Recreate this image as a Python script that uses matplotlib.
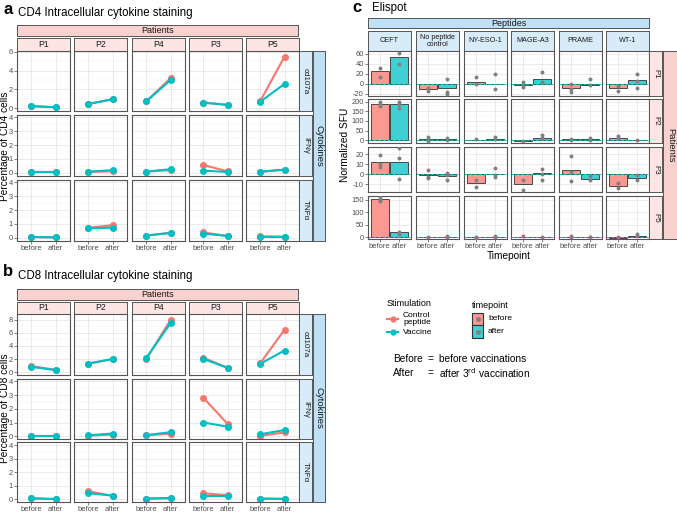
import matplotlib
import matplotlib.pyplot as plt
from matplotlib.patches import Rectangle
from matplotlib.lines import Line2D

matplotlib.use('agg')
plt.rcParams['font.family'] = ['Liberation Sans', 'DejaVu Sans']

# --- data -------------------------------------------------------------
timepoints = ['before', 'after']
ics_patients = ['P1', 'P2', 'P4', 'P3', 'P5']
cytokines = ['cd107a', 'IFNγ', 'TNFα']

# CD4, one [before, after] pair per patient
cd4_cd107a_ctrl = [[0.25, 0.10], [0.45, 0.95], [0.75, 3.20], [0.60, 0.35], [0.80, 5.50]]
cd4_cd107a_vacc = [[0.20, 0.10], [0.45, 0.95], [0.75, 3.00], [0.60, 0.35], [0.70, 2.60]]
cd4_ifng_ctrl = [[0.02, 0.02], [0.05, 0.10], [0.08, 0.18], [0.55, 0.10], [0.05, 0.22]]
cd4_ifng_vacc = [[0.02, 0.02], [0.08, 0.18], [0.08, 0.25], [0.15, 0.05], [0.08, 0.22]]
cd4_tnfa_ctrl = [[0.05, 0.02], [0.72, 0.90], [0.15, 0.35], [0.38, 0.12], [0.10, 0.08]]
cd4_tnfa_vacc = [[0.05, 0.02], [0.68, 0.72], [0.15, 0.35], [0.30, 0.12], [0.08, 0.08]]

# CD8
cd8_cd107a_ctrl = [[0.90, 0.35], [1.30, 2.00], [2.00, 8.00], [2.20, 0.65], [1.40, 6.50]]
cd8_cd107a_vacc = [[0.80, 0.30], [1.30, 2.00], [2.20, 7.50], [2.00, 0.65], [1.30, 3.30]]
cd8_ifng_ctrl = [[0.03, 0.03], [0.05, 0.12], [0.08, 0.18], [2.80, 0.90], [0.03, 0.28]]
cd8_ifng_vacc = [[0.03, 0.03], [0.07, 0.20], [0.08, 0.30], [1.00, 0.70], [0.15, 0.45]]
cd8_tnfa_ctrl = [[0.07, 0.02], [0.60, 0.25], [0.05, 0.08], [0.45, 0.30], [0.05, 0.03]]
cd8_tnfa_vacc = [[0.07, 0.02], [0.45, 0.28], [0.05, 0.10], [0.25, 0.25], [0.05, 0.03]]

# Elispot
peptides = ['CEFT', 'No peptide\ncontrol', 'NY-ESO-1', 'MAGE-A3', 'PRAME', 'WT-1']
elispot_patients = ['P1', 'P2', 'P3', 'P5']

p1_before = [25, -11, 4, -2, -9, -8]
p1_after = [53, -9, 0, 10, -3, 7]
p1_pts_before = [[31, 13], [-8, -14], [13, 0], [3, -2, -6], [0, -10, -17], [-4, -15]]
p1_pts_after = [[62, 40], [10, -17, -20], [20, -10], [23, 3], [9, -3], [20, 5, -9]]

p2_before = [190, 8, 3, -5, 5, 10]
p2_after = [190, 5, 8, 10, 8, 0]
p2_pts_before = [[200, 190, 180], [15, 5, -5], [5], [-5], [5, 3], [20, 10]]
p2_pts_after = [[200, 190, 165], [10, 3], [15, 5], [25, 10], [10, 3], [2]]

p3_before = [12, -1, -9, -10, 4, -12]
p3_after = [12, -2, 0.3, 1, -5, -4]
p3_pts_before = [[19, 10, 7], [4, -3, -4], [-6, -13], [-6, -16], [18, 2, -7], [-9, -14]]
p3_pts_after = [[26, 16, -5], [1, -1, -6], [6, -1, -3], [5, 0, -6], [-2, -6], [-1, -6]]

p5_before = [155, 0, 0, 3, 2, -1]
p5_after = [20, 3, 3, 0, 2, 5]
p5_pts_before = [[162, 150, 145], [0], [0, -3], [5], [5, 0], [0]]
p5_pts_after = [[22, 15], [5, 0], [5, 0], [0], [3, 0], [13, 5]]

# --- style -------------------------------------------------------------
RED = '#F8766D'
TEAL = '#00BFC4'
RED_FILL = '#FA9891'
TEAL_FILL = '#40CFD3'
PINK_DARK = '#F9D2CF'
PINK_LIGHT = '#FDE5E3'
BLUE_DARK = '#BFE0F5'
BLUE_LIGHT = '#D8EBF8'
TICK = 5.4

W, H = 677, 512
fig = plt.figure(figsize=(W / 100, H / 100), dpi=100)


def box(x0, y0, x1, y1):
    return fig.add_axes([x0 / W, 1 - y1 / H, (x1 - x0) / W, (y1 - y0) / H])


def strip(x0, y0, x1, y1, label, color, rot=0, size=6.2):
    ax = box(x0, y0, x1, y1)
    ax.set_facecolor(color)
    ax.set_xticks([])
    ax.set_yticks([])
    for s in ax.spines.values():
        s.set_color('#555555')
        s.set_linewidth(0.7)
    ax.text(0.5, 0.5, label, transform=ax.transAxes, ha='center', va='center',
            rotation=rot, fontsize=size, color='#1A1A1A', linespacing=0.9)
    return ax


def panel(x0, y0, x1, y1, ylim, yticks, left, bottom):
    ax = box(x0, y0, x1, y1)
    ax.set_xlim(0.4, 2.6)
    ax.set_ylim(*ylim)
    ax.set_xticks([1, 2])
    ax.set_yticks(yticks)
    minor = [(a + b) / 2 for a, b in zip(yticks[:-1], yticks[1:])]
    ax.set_yticks(minor, minor=True)
    ax.grid(True, which='major', color='#E3E3E3', lw=0.5)
    ax.grid(True, which='minor', axis='y', color='#F1F1F1', lw=0.35)
    ax.set_axisbelow(True)
    ax.tick_params(labelsize=TICK, colors='#4D4D4D', length=2, width=0.5, pad=1)
    ax.tick_params(which='minor', length=0)
    ax.set_xticklabels(timepoints if bottom else [])
    if not bottom:
        ax.tick_params(axis='x', length=0)
    if left:
        ax.set_yticklabels([f'{t:g}' for t in yticks])
    else:
        ax.set_yticklabels([])
        ax.tick_params(axis='y', length=0)
    for s in ax.spines.values():
        s.set_color('#555555')
        s.set_linewidth(0.8)
    return ax


def ics_block(top, rows, data, ylims, yticks):
    cols = [17, 74, 132, 189, 246]
    strip(17, top, 298, top + 11, 'Patients', PINK_DARK, size=6.5)
    for c, p in enumerate(ics_patients):
        strip(cols[c], top + 13, cols[c] + 53, rows[0][0], p, PINK_LIGHT)
    for r, (y0, y1) in enumerate(rows):
        ctrl, vacc = data[r]
        for c in range(len(ics_patients)):
            ax = panel(cols[c], y0, cols[c] + 53, y1, ylims[r], yticks[r],
                       c == 0, r == len(rows) - 1)
            ax.plot([1, 2], ctrl[c], color=RED, lw=1.5, marker='o', ms=4)
            ax.plot([1, 2], vacc[c], color=TEAL, lw=1.5, marker='o', ms=4)
        strip(299, y0, 312, y1, cytokines[r], BLUE_LIGHT, rot=270, size=5.8)
    strip(313, rows[0][0], 325, rows[-1][1], 'Cytokines', BLUE_DARK, rot=270, size=6.8)


# --- a: CD4 ------------------------------------------------------------
ics_block(25, [(51, 111), (115, 176), (180, 241)],
          [(cd4_cd107a_ctrl, cd4_cd107a_vacc), (cd4_ifng_ctrl, cd4_ifng_vacc),
           (cd4_tnfa_ctrl, cd4_tnfa_vacc)],
          [(-0.3, 6.1), (-0.24, 4.17), (-0.24, 4.17)],
          [[0, 2, 4, 6], [0, 1, 2, 3, 4], [0, 1, 2, 3, 4]])

# --- b: CD8 ------------------------------------------------------------
ics_block(289, [(314, 375), (379, 439), (442, 502)],
          [(cd8_cd107a_ctrl, cd8_cd107a_vacc), (cd8_ifng_ctrl, cd8_ifng_vacc),
           (cd8_tnfa_ctrl, cd8_tnfa_vacc)],
          [(-0.45, 8.9), (-0.2, 4.17), (-0.2, 4.25)],
          [[0, 2, 4, 6, 8], [0, 1, 2, 3, 4], [0, 1, 2, 3, 4]])

# --- c: Elispot --------------------------------------------------------
c_cols = [368, 416, 464, 511, 559, 606]
c_rows = [(51, 96), (99, 143), (147, 192), (196, 239)]
c_ylims = [(-25, 65), (-15, 214), (-18, 27.5), (-7, 166)]
c_yticks = [[-20, 0, 20, 40, 60], [0, 50, 100, 150, 200], [-10, 0, 10, 20], [0, 50, 100, 150]]
c_data = [(p1_before, p1_after, p1_pts_before, p1_pts_after),
          (p2_before, p2_after, p2_pts_before, p2_pts_after),
          (p3_before, p3_after, p3_pts_before, p3_pts_after),
          (p5_before, p5_after, p5_pts_before, p5_pts_after)]

strip(368, 18, 649, 28, 'Peptides', BLUE_DARK, size=6.5)
for c, pep in enumerate(peptides):
    strip(c_cols[c], 31, c_cols[c] + 43, 51, pep, BLUE_LIGHT, size=5.2)
for r, (y0, y1) in enumerate(c_rows):
    before, after, pts_b, pts_a = c_data[r]
    for c in range(len(peptides)):
        ax = panel(c_cols[c], y0, c_cols[c] + 43, y1, c_ylims[r], c_yticks[r],
                   c == 0, r == len(c_rows) - 1)
        ax.bar([1, 2], [before[c], after[c]], width=0.9, color=[RED_FILL, TEAL_FILL],
               edgecolor='#333333', lw=0.6, zorder=2)
        ax.axhline(0, color=TEAL, ls=(0, (3, 2)), lw=0.7, zorder=2.5)
        ax.scatter([1] * len(pts_b[c]), pts_b[c], s=8, color='#808080', zorder=3, lw=0)
        ax.scatter([2] * len(pts_a[c]), pts_a[c], s=8, color='#808080', zorder=3, lw=0)
    strip(649, y0, 662, y1, elispot_patients[r], PINK_LIGHT, rot=270, size=5.8)
strip(663, 51, 679, 239, 'Patients', PINK_DARK, rot=270, size=6.8)

# --- labels and legends ------------------------------------------------
ov = fig.add_axes([0, 0, 1, 1])
ov.set_xlim(0, W)
ov.set_ylim(H, 0)
ov.axis('off')

ov.text(3, 9, 'a', fontsize=12, weight='bold', va='center')
ov.text(18, 13, 'CD4 Intracellular cytokine staining', fontsize=8.3, va='center')
ov.text(3, 272, 'b', fontsize=12, weight='bold', va='center')
ov.text(18, 276, 'CD8 Intracellular cytokine staining', fontsize=8.3, va='center')
ov.text(352, 8, 'c', fontsize=12, weight='bold', va='center')
ov.text(372, 8, 'Elispot', fontsize=8.3, va='center')

ov.text(5, 146, 'Percentage of CD4 cells', rotation=90, fontsize=7.3, ha='center', va='center')
ov.text(5, 408, 'Percentage of CD8 cells', rotation=90, fontsize=7.3, ha='center', va='center')
ov.text(345, 145, 'Normalized SFU', rotation=90, fontsize=7.3, ha='center', va='center')
ov.text(509, 256, 'Timepoint', fontsize=7.3, ha='center', va='center')

# Stimulation legend
ov.text(387, 303, 'Stimulation', fontsize=6.5, va='center')
for yk, col, lab in [(319, RED, 'Control\npeptide'), (332, TEAL, 'Vaccine')]:
    ov.add_line(Line2D([387, 398], [yk, yk], color=col, lw=1.5))
    ov.plot([392.5], [yk], 'o', color=col, ms=3.5)
    ov.text(403, yk, lab, fontsize=6, va='center', linespacing=0.95)

# timepoint legend
ov.text(472, 305, 'timepoint', fontsize=6.5, va='center')
for (ya, yb), fill, lab in [((313, 325), RED_FILL, 'before'), ((325, 338), TEAL_FILL, 'after')]:
    ov.add_patch(Rectangle((472, ya), 11, yb - ya, facecolor=fill, edgecolor='#333333', lw=0.8))
    ov.plot([477.5], [(ya + yb) / 2], 'o', color='#808080', ms=2.5)
    ov.text(488, (ya + yb) / 2, lab, fontsize=6, va='center')

ov.text(393, 359, 'Before', fontsize=7.3, va='center')
ov.text(428, 359, '=', fontsize=7.3, va='center')
ov.text(439, 359, 'before vaccinations', fontsize=7.3, va='center')
ov.text(393, 373, 'After', fontsize=7.3, va='center')
ov.text(428, 373, '=', fontsize=7.3, va='center')
ov.text(439, 373, 'after 3$^{\\mathrm{rd}}$ vaccination', fontsize=7.3, va='center')

fig.savefig('out.png', dpi=100)
